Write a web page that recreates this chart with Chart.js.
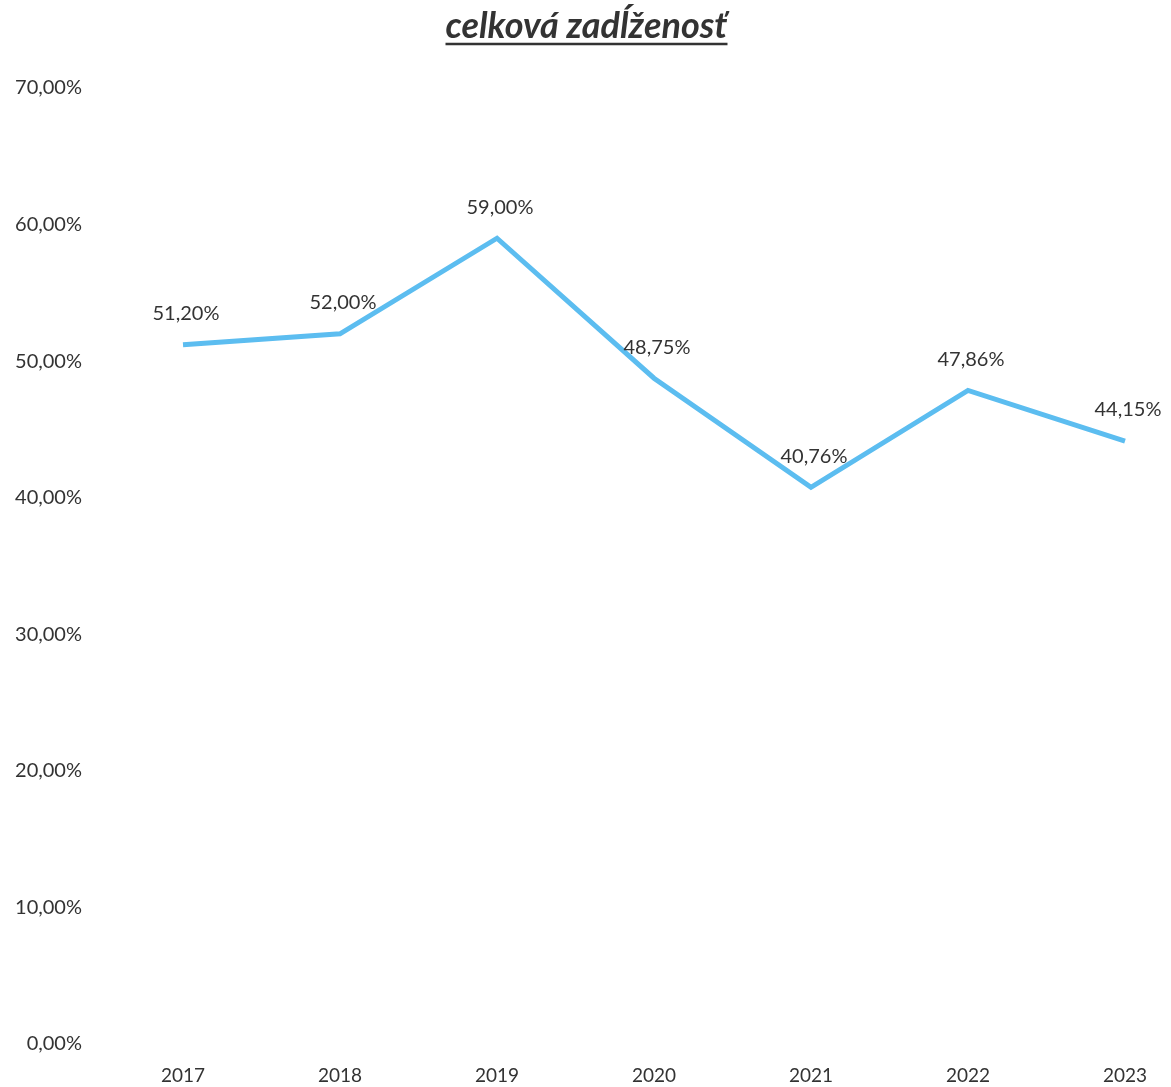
<!DOCTYPE html>
<html>
<head>
<meta charset="utf-8">
<script src="https://cdn.jsdelivr.net/npm/chart.js@4/dist/chart.umd.min.js"></script>
<style>
  html, body { margin: 0; padding: 0; background: #fff; }
  #wrap { width: 1171px; height: 1087px; position: relative; }
</style>
</head>
<body>
<div id="wrap"><canvas id="debtChart"></canvas></div>
<script>
// data
const years = ["2017", "2018", "2019", "2020", "2021", "2022", "2023"];
const debtRatio = [51.2, 52.0, 59.0, 48.75, 40.76, 47.86, 44.15]; // %
const chartTitle = "celková zadĺženosť";

const textColor = "#333333";
const fontFamily = "Lato, 'Open Sans', sans-serif";

// format like 51,20%
function pct(v) {
  return v.toFixed(2).replace(".", ",") + "%";
}

// value labels above each point + underlined title
const extras = {
  id: "extras",
  afterDatasetsDraw(chart) {
    const ctx = chart.ctx;
    const meta = chart.getDatasetMeta(0);
    ctx.save();
    ctx.font = "20px " + fontFamily;
    ctx.fillStyle = textColor;
    ctx.textAlign = "center";
    ctx.textBaseline = "middle";
    meta.data.forEach(function (pt, i) {
      ctx.fillText(pct(debtRatio[i]), pt.x + 3, pt.y - 31);
    });
    ctx.restore();
  },
  afterDraw(chart) {
    const ctx = chart.ctx;
    ctx.save();
    ctx.font = "italic bold 36px " + fontFamily;
    ctx.fillStyle = textColor;
    ctx.textAlign = "center";
    ctx.textBaseline = "alphabetic";
    const cx = chart.width / 2 + 1;
    ctx.fillText(chartTitle, cx, 38);
    const w = ctx.measureText(chartTitle).width;
    ctx.strokeStyle = textColor;
    ctx.lineWidth = 2.5;
    ctx.beginPath();
    ctx.moveTo(cx - w / 2, 44);
    ctx.lineTo(cx + w / 2, 44);
    ctx.stroke();
    ctx.restore();
  },
};

let ctx = document.getElementById("debtChart").getContext("2d");
new Chart(ctx, {
  type: "line",
  data: {
    labels: years,
    datasets: [
      {
        data: debtRatio,
        borderColor: "#5cbdf0",
        borderWidth: 5,
        pointRadius: 0,
        pointHoverRadius: 0,
        tension: 0,
        fill: false,
      },
    ],
  },
  options: {
    responsive: true,
    maintainAspectRatio: false,
    animation: false,
    layout: {
      padding: { left: 0, right: 46, top: 88, bottom: 0 },
    },
    plugins: {
      legend: { display: false },
      tooltip: { enabled: false },
      title: { display: false },
    },
    scales: {
      x: {
        offset: false,
        grid: { display: false, drawTicks: false },
        border: { display: false },
        ticks: {
          color: textColor,
          font: { family: fontFamily, size: 19 },
          padding: 20,
          maxRotation: 0,
        },
        afterFit: function (scale) {
          scale.height = 43;
        },
      },
      y: {
        min: 0,
        max: 70,
        grid: { display: false, drawTicks: false },
        border: { display: false },
        ticks: {
          stepSize: 10,
          color: textColor,
          font: { family: fontFamily, size: 20 },
          padding: 101,
          callback: function (value) {
            return pct(value);
          },
        },
        afterFit: function (scale) {
          scale.width = 183;
          // tick padding should not push the plot top/bottom
          scale.paddingTop = 0;
          scale.paddingBottom = 0;
        },
      },
    },
  },
  plugins: [extras],
});
</script>
</body>
</html>
